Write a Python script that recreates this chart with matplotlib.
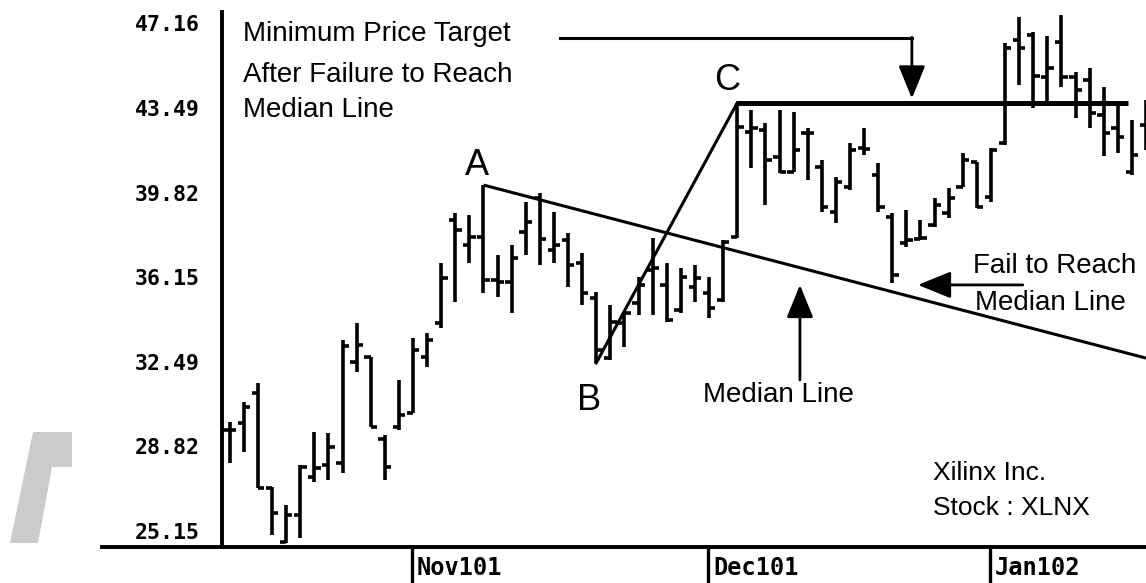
import matplotlib
matplotlib.use("Agg")
import matplotlib.pyplot as plt
import matplotlib.transforms as mtransforms
from matplotlib.lines import Line2D
from matplotlib.patches import Polygon
import numpy as np

# ---------------- data (trading-day index, OHLC prices) ----------------
day = list(range(1, 67))
high = [29.88, 30.74, 31.57, 27.06, 26.28, 28.01, 29.44, 29.40, 33.43, 34.17,
        32.70, 29.31, 31.70, 33.52, 33.74, 36.77, 38.94, 38.85, 40.15, 37.12,
        37.55, 39.41, 39.80, 38.98, 38.07, 37.20, 35.51, 34.95, 34.65, 36.16,
        37.85, 36.77, 36.55, 36.68, 36.16, 37.77, 43.71, 43.40, 42.84, 43.40,
        43.32, 42.62, 41.23, 40.50, 41.97, 42.62, 41.10, 38.94, 39.07, 38.63,
        39.59, 40.02, 41.54, 41.15, 41.75, 46.31, 47.43, 46.78, 46.61, 47.52,
        45.05, 45.22, 44.40, 43.71, 42.97, 43.84]
low = [28.10, 28.58, 27.02, 24.98, 24.63, 24.85, 27.28, 27.36, 27.67, 32.05,
       29.66, 27.36, 29.53, 30.27, 32.26, 33.95, 35.08, 36.77, 35.47, 35.30,
       34.60, 37.12, 36.68, 36.77, 35.73, 34.95, 32.44, 32.57, 33.13, 34.52,
       34.52, 34.21, 34.60, 35.08, 34.39, 35.08, 37.85, 40.89, 39.28, 40.67,
       40.71, 40.37, 38.98, 38.50, 39.93, 41.45, 38.98, 35.90, 37.46, 37.77,
       38.33, 38.72, 40.06, 39.15, 39.41, 41.89, 44.49, 43.49, 43.62, 44.40,
       43.06, 42.62, 41.41, 41.54, 40.58, 41.67]
open_ = [29.53, 29.83, 31.13, 27.02, 24.68, 25.85, 27.49, 28.01, 28.10, 32.48,
         32.70, 29.14, 29.66, 30.27, 32.70, 34.17, 38.63, 37.55, 37.90, 36.03,
         35.95, 38.11, 39.59, 37.33, 37.77, 36.77, 35.25, 32.65, 34.17, 35.04,
         36.47, 35.82, 34.73, 35.73, 35.47, 35.17, 37.90, 42.45, 42.54, 41.36,
         40.71, 42.40, 40.93, 38.98, 40.06, 41.75, 40.58, 38.76, 37.64, 37.81,
         38.42, 38.94, 40.06, 41.15, 39.63, 41.97, 46.44, 46.65, 44.83, 46.35,
         44.83, 44.70, 43.19, 42.62, 40.71, 42.75]
close = [29.53, 30.53, 27.02, 25.93, 25.85, 27.93, 27.88, 28.79, 33.17, 33.22,
         29.66, 27.93, 30.18, 33.00, 33.43, 36.12, 38.20, 37.90, 36.03, 35.95,
         36.99, 38.55, 37.81, 37.55, 36.68, 35.47, 33.00, 34.21, 34.60, 35.82,
         36.55, 34.30, 36.16, 36.12, 34.82, 37.68, 42.66, 42.62, 41.23, 40.71,
         41.67, 42.40, 39.20, 40.28, 41.67, 41.71, 39.20, 36.25, 37.77, 37.85,
         39.28, 39.59, 41.23, 39.20, 41.67, 46.09, 46.09, 44.88, 45.22, 44.83,
         44.27, 43.27, 42.40, 42.23, 41.45, 42.54]

y_ticks = [25.15, 28.82, 32.49, 36.15, 39.82, 43.49, 47.16]
y_tick_labels = ["25.15", "28.82", "32.49", "36.15", "39.82", "43.49", "47.16"]
month_start_day = [14, 35, 55]
month_labels = ["Nov101", "Dec101", "Jan102"]

# pivot points A, B, C (day index)
A_day, B_day, C_day = 19, 27, 37
target_line_end_day = 64.7

# ---------------- figure ----------------
W, H = 1146, 583
fig = plt.figure(figsize=(W / 100, H / 100), dpi=100)
fig.patch.set_facecolor("white")
ax = fig.add_axes([222 / W, 36 / H, 924 / W, 535 / H])
ax.set_xlim(0.45, 66.0)
ax.set_ylim(24.46, 47.65)

x = np.array(day, dtype=float)
lw_bar = 2.6
tick_len = 0.45
ax.vlines(x, low, high, color="black", lw=lw_bar)
ax.hlines(open_, x - tick_len, x, color="black", lw=lw_bar)
ax.hlines(close, x, x + tick_len, color="black", lw=lw_bar)

for s in ["top", "right"]:
    ax.spines[s].set_visible(False)
for s in ["left", "bottom"]:
    ax.spines[s].set_linewidth(2.8)

# extend the bottom axis line to the left under the price labels
fig.add_artist(Line2D([102 / W, 222 / W], [36 / H, 36 / H], transform=fig.transFigure,
                      color="black", lw=2.8))

# watermark fragment on the left
wm = [(10, 543), (33, 432), (72, 432), (72, 467), (52, 467), (38, 543)]
fig.add_artist(Polygon([(px / W, 1 - py / H) for px, py in wm], closed=True,
                       transform=fig.transFigure, facecolor="#cbcbcb", edgecolor="none"))

# y ticks
ax.set_yticks(y_ticks, y_tick_labels)
ax.tick_params(axis="y", length=0, pad=16)
for lbl in ax.get_yticklabels():
    lbl.set_fontfamily("DejaVu Sans Mono")
    lbl.set_fontweight("bold")
    lbl.set_fontsize(15.5)

# x ticks
ax.set_xticks([d - 0.07 for d in month_start_day], month_labels)
ax.tick_params(axis="x", length=26, width=2.4, direction="out", pad=-19.5)
offset = mtransforms.ScaledTranslation(5 / 100, 0, fig.dpi_scale_trans)
for lbl in ax.get_xticklabels():
    lbl.set_fontfamily("DejaVu Sans Mono")
    lbl.set_fontweight("bold")
    lbl.set_fontsize(17)
    lbl.set_ha("left")
    lbl.set_transform(lbl.get_transform() + offset)

# ---------------- pitchfork lines ----------------
A = (A_day, high[A_day - 1])
B = (B_day, low[B_day - 1])
C = (C_day, high[C_day - 1])
mid = ((B[0] + C[0]) / 2, (B[1] + C[1]) / 2)
slope = (mid[1] - A[1]) / (mid[0] - A[0])
x_end = ax.get_xlim()[1]
ax.plot([A[0], x_end], [A[1], A[1] + slope * (x_end - A[0])], color="black", lw=2.2,
        solid_capstyle="butt")
ax.plot([B[0], C[0]], [B[1], C[1]], color="black", lw=2.2)
ax.plot([C[0], target_line_end_day], [C[1], C[1]], color="black", lw=3.6,
        solid_capstyle="butt")

# ---------------- text & arrows ----------------
fnt = dict(family="Liberation Sans", color="black")
ax.text(1.94, 46.39, "Minimum Price Target", fontsize=20, va="baseline", ha="left", **fnt)
ax.text(1.94, 44.62, "After Failure to Reach", fontsize=20, va="baseline", ha="left", **fnt)
ax.text(1.94, 43.10, "Median Line", fontsize=20, va="baseline", ha="left", **fnt)

ax.text(18.54, 40.58, "A", fontsize=26, ha="center", va="baseline", **fnt)
ax.text(26.48, 30.40, "B", fontsize=26, ha="center", va="baseline", **fnt)
ax.text(36.27, 44.27, "C", fontsize=26, ha="center", va="baseline", **fnt)

ax.text(34.57, 30.74, "Median Line", fontsize=20, ha="left", va="baseline", **fnt)
ax.text(53.72, 36.34, "Fail to Reach", fontsize=20, ha="left", va="baseline", **fnt)
ax.text(53.86, 34.73, "Median Line", fontsize=20, ha="left", va="baseline", **fnt)
ax.text(50.88, 27.36, "Xilinx Inc.", fontsize=19, ha="left", va="baseline", **fnt)
ax.text(50.88, 25.85, "Stock : XLNX", fontsize=19, ha="left", va="baseline", **fnt)

arrow_kw = dict(arrowstyle="-|>,head_length=1.35,head_width=0.55", mutation_scale=15,
                lw=2.0, color="black", shrinkA=0, shrinkB=0)
# top arrow: horizontal then down to target line
ax.plot([24.43, 49.39], [46.52, 46.52], color="black", lw=2.2, clip_on=False)
ax.annotate("", xy=(49.39, 43.90), xytext=(49.39, 46.55), arrowprops=arrow_kw,
            annotation_clip=False)
# up arrow to median line
ax.annotate("", xy=(41.45, 35.82), xytext=(41.45, 31.70), arrowprops=arrow_kw,
            annotation_clip=False)
# left arrow "fail to reach"
ax.annotate("", xy=(49.82, 35.82), xytext=(57.26, 35.82), arrowprops=arrow_kw,
            annotation_clip=False)

fig.savefig("out.png", dpi=100, facecolor="white")
